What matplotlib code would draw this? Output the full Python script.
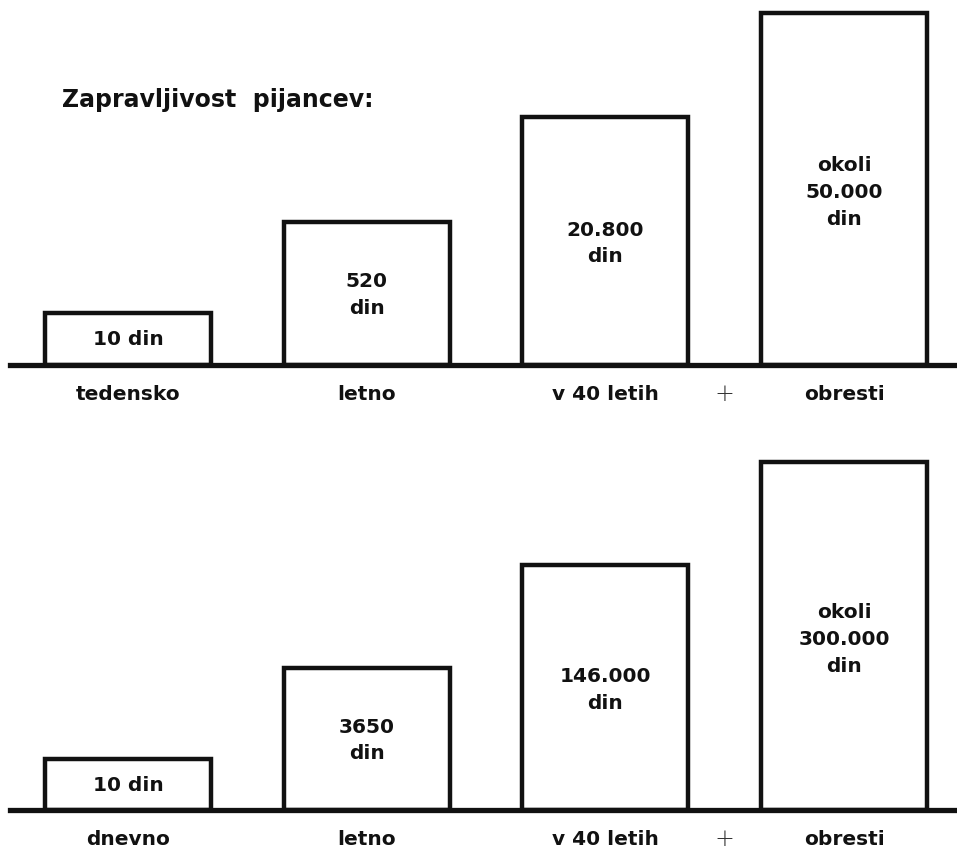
import matplotlib
matplotlib.use("Agg")
import matplotlib.pyplot as plt

# ---- data ----
title = "Zapravljivost  pijancev:"
top_categories = ["tedensko", "letno", "v 40 letih", "obresti"]
top_labels = ["10 din", "520\ndin", "20.800\ndin", "okoli\n50.000\ndin"]
top_heights = [52, 143, 248, 352]          # pictorial bar heights (not to scale)

bottom_categories = ["dnevno", "letno", "v 40 letih", "obresti"]
bottom_labels = ["10 din", "3650\ndin", "146.000\ndin", "okoli\n300.000\ndin"]
bottom_heights = [51, 142, 245, 348]       # pictorial bar heights (not to scale)

plus_position = 2.5

# ---- figure ----
W, H = 957, 852
fig = plt.figure(figsize=(W / 100, H / 100), dpi=100)
fig.patch.set_facecolor("white")
plt.rcParams["font.family"] = ["DejaVu Sans"]

ink = "#111111"
fs = 14.5
left_px = 10
spacing = 238.7
first_center = 128
xlim = (-(first_center - left_px) / spacing, (W - first_center) / spacing)
ax_h = 365


def panel(baseline_px, categories, labels, heights):
    ax = fig.add_axes([left_px / W, (H - baseline_px) / H, 1 - left_px / W, ax_h / H])
    ax.set_xlim(*xlim)
    ax.set_ylim(0, ax_h)
    ax.axis("off")
    xs = list(range(len(categories)))
    ax.bar(xs, heights, width=0.695, facecolor="white", edgecolor=ink,
           linewidth=3.2, zorder=2, clip_on=False)
    ax.axhline(0, color=ink, linewidth=3.8, zorder=3, clip_on=False)
    for x, h, lab in zip(xs, heights, labels):
        ax.text(x, h * 0.49, lab, ha="center", va="center", fontsize=fs,
                fontweight="bold", color=ink, linespacing=1.52, zorder=4)
    for x, cat in zip(xs, categories):
        ax.annotate(cat, xy=(x, 0), xytext=(0, -21), textcoords="offset points",
                    ha="center", va="center", fontsize=fs, fontweight="bold",
                    color=ink, annotation_clip=False)
    ax.annotate("+", xy=(plus_position, 0), xytext=(0, -21), textcoords="offset points",
                ha="center", va="center", fontsize=17, fontweight="ultralight",
                family=["DejaVu Sans"], color="#333333", annotation_clip=False)
    return ax


panel(365, top_categories, top_labels, top_heights)
panel(810, bottom_categories, bottom_labels, bottom_heights)

fig.text(62 / W, (H - 100) / H, title, ha="left", va="center", fontsize=17,
         fontweight="bold", color=ink)

fig.savefig("out.png", dpi=100, facecolor="white")
